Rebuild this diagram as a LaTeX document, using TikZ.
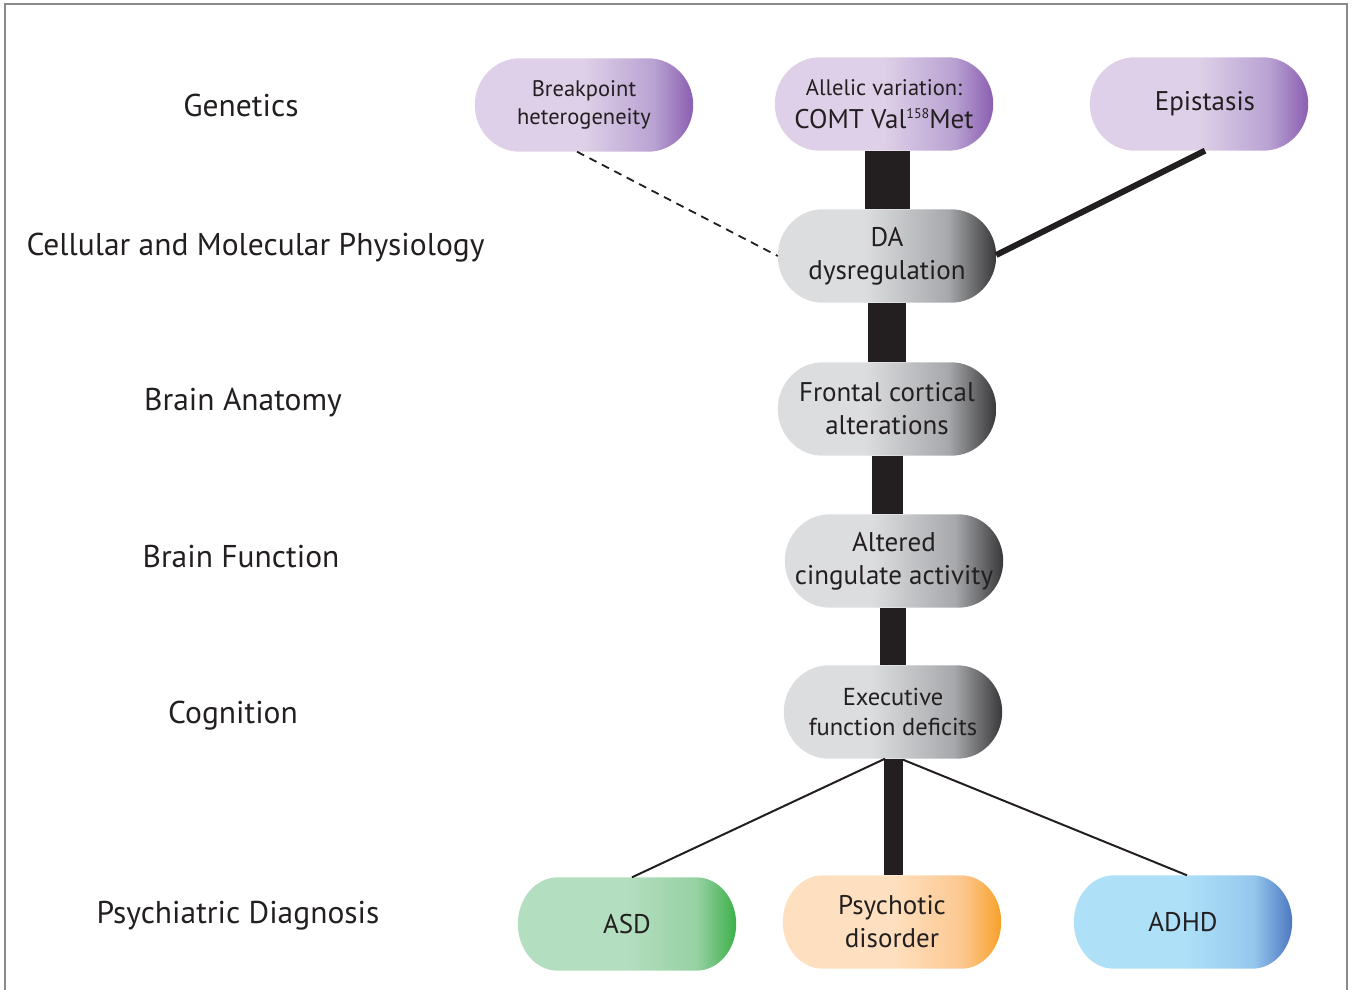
\documentclass[tikz,border=0pt]{standalone}
\usepackage{fontspec}
\setmainfont{PT Sans}
\usetikzlibrary{backgrounds,calc}
\definecolor{txt}{HTML}{231F20}
\definecolor{frame}{HTML}{8A8A8A}
\definecolor{pl}{HTML}{DED0E8}\definecolor{pm}{HTML}{B9A2D2}\definecolor{pd}{HTML}{8A5EB0}
\definecolor{gl}{HTML}{DCDDDF}\definecolor{gm}{HTML}{A7A8AB}\definecolor{gd}{HTML}{38383A}
\definecolor{nl}{HTML}{B4DEC0}\definecolor{nm}{HTML}{96D1A2}\definecolor{nd}{HTML}{3CB04A}
\definecolor{ol}{HTML}{FEE0C0}\definecolor{om}{HTML}{FCC890}\definecolor{od}{HTML}{F8A12A}
\definecolor{bl}{HTML}{AEE1F7}\definecolor{bm}{HTML}{96C8EE}\definecolor{bd}{HTML}{4D78C0}
\pgfdeclarehorizontalshading{purp}{100bp}{color(0bp)=(pl);color(25bp)=(pl);color(50bp)=(pl);color(66bp)=(pm);color(75bp)=(pd);color(100bp)=(pd)}
\pgfdeclarehorizontalshading{gray}{100bp}{color(0bp)=(gl);color(25bp)=(gl);color(45bp)=(gl);color(64bp)=(gm);color(75bp)=(gd);color(100bp)=(gd)}
\pgfdeclarehorizontalshading{green}{100bp}{color(0bp)=(nl);color(25bp)=(nl);color(50bp)=(nl);color(66bp)=(nm);color(75bp)=(nd);color(100bp)=(nd)}
\pgfdeclarehorizontalshading{orng}{100bp}{color(0bp)=(ol);color(25bp)=(ol);color(50bp)=(ol);color(66bp)=(om);color(75bp)=(od);color(100bp)=(od)}
\pgfdeclarehorizontalshading{blue}{100bp}{color(0bp)=(bl);color(25bp)=(bl);color(50bp)=(bl);color(66bp)=(bm);color(75bp)=(bd);color(100bp)=(bd)}
\newcommand\pillfill[3]{%
  \path[shading=#3] let \p1=(#1.south west), \p2=(#1.north east), \n2={abs(\y2-\y1)/2} in
    (\x1+#2,\y1) -- (\x2-#2,\y1)
    arc[start angle=-90,end angle=90,x radius=#2,y radius=\n2]
    -- (\x1+#2,\y2)
    arc[start angle=90,end angle=270,x radius=#2,y radius=\n2] -- cycle;}
\begin{document}
\begin{tikzpicture}[x=1pt,y=-1pt,
  lab/.style={font=\fontsize{31.5}{36}\selectfont, text=txt},
  pill/.style={minimum width=218pt, minimum height=93pt, inner sep=0pt, align=center, text=txt, font=\fontsize{27}{33}\selectfont},
  bar/.style={draw=txt, line cap=butt},
  thin/.style={draw=txt, line width=2pt}]
\useasboundingbox (0,0) rectangle (1353,990);
\draw[frame, line width=2pt] (5,995) -- (5,4) -- (1347,4) -- (1347,995);
% row labels
\node[lab] (lgen) at (241,105) {Genetics};
\node[lab] (lcell) at (255.5,248) {Cellular and Molecular Physiology};
\node[lab] (lanat) at (243,403) {Brain Anatomy};
\node[lab] (lfunc) at (241,557) {Brain Function};
\node[lab] (lcog) at (233,716) {Cognition};
\node[lab] (ldiag) at (238,916) {Psychiatric Diagnosis};
% nodes
\node[pill, font=\fontsize{22.5}{28}\selectfont] (bp) at (584,105) {Breakpoint\\heterogeneity};
\node[pill] (comt) at (884,104) {{\fontsize{22.5}{28}\selectfont Allelic variation:}\\COMT Val\raisebox{0.38em}{\fontsize{14}{14}\selectfont 158}Met};
\node[pill] (epi) at (1199,104) {\hspace*{12pt}Epistasis};
\node[pill] (da) at (887,256) {DA\\dysregulation};
\node[pill] (fc) at (887,409) {Frontal cortical\\alterations};
\node[pill] (ac) at (894,561) {Altered\\cingulate activity};
\node[pill, font=\fontsize{24.5}{30}\selectfont] (ef) at (893,712) {Executive\\function deficits};
\node[pill] (asd) at (627,924) {ASD};
\node[pill] (psy) at (892,922) {Psychotic\\disorder};
\node[pill] (adhd) at (1183,922) {ADHD};
\begin{scope}[on background layer]
\pillfill{bp}{45pt}{purp}
\pillfill{comt}{45pt}{purp}
\pillfill{epi}{45pt}{purp}
\pillfill{da}{45pt}{gray}
\pillfill{fc}{45pt}{gray}
\pillfill{ac}{45pt}{gray}
\pillfill{ef}{45pt}{gray}
\pillfill{asd}{40pt}{green}
\pillfill{psy}{40pt}{orng}
\pillfill{adhd}{40pt}{blue}
% connectors
\draw[bar, line width=45pt] ($(comt.south)+(3.5,0)$) -- ($(da.north)+(0.5,0)$);
\draw[bar, line width=38pt] (da.south) -- (fc.north);
\draw[bar, line width=31pt] ($(fc.south)+(0.5,0)$) -- ($(ac.north)+(-6.5,0)$);
\draw[bar, line width=26pt] ($(ac.south)+(-1,0)$) -- (ef.north);
\draw[bar, line width=19pt] ($(ef.south)+(0.5,0)$) -- ($(psy.north)+(1.5,0)$);
\draw[txt, line width=6pt] ($(epi.south)+(6,0)$) -- ($(da.east)+(0,-1)$);
\draw[txt, line width=1.8pt, dash pattern=on 8pt off 6pt] ($(bp.south)+(-7,0)$) -- (da.west);
\draw[thin] ($(ef.south)+(-8,0)$) -- ($(asd.north)+(5,0)$);
\draw[thin] ($(ef.south)+(10,1)$) -- ($(adhd.north)+(4,0)$);
\end{scope}
\end{tikzpicture}
\end{document}
